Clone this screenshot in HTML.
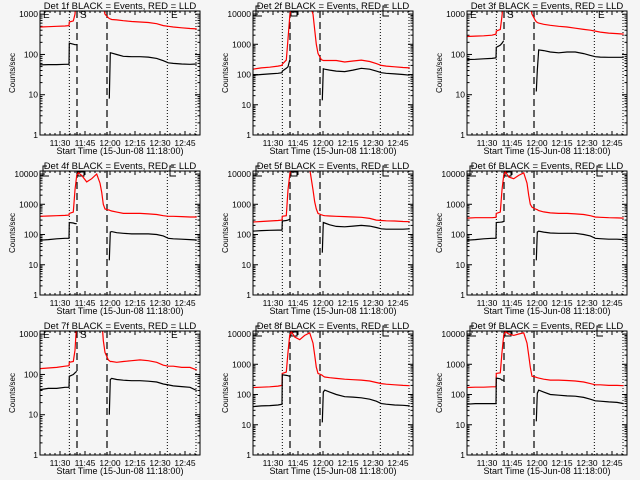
<!DOCTYPE html>
<html><head><meta charset="utf-8"><style>
html,body{margin:0;padding:0;background:#f5f5f5;}
svg{display:block;font-family:"Liberation Sans",sans-serif;}
</style></head><body>
<svg id="chart" width="640" height="480" viewBox="0 0 640 480" xmlns="http://www.w3.org/2000/svg">
<rect x="0" y="0" width="640" height="480" fill="#f5f5f5"/>
</svg>
<script>
// minutes since 11:18:00
const times = [0,5,10,15,17.4,17.6,20,21,22,23,25,28,31,34,36,37,38,39,41,41.6,42.2,43,46,50,55,60,65,70,74,77,80,85,90,94];
const N = null;
const panelNames = ["Det 1f","Det 2f","Det 3f","Det 4f","Det 5f","Det 6f","Det 7f","Det 8f","Det 9f"];
const panelMax = [1200,12600,1200,12600,12600,12600,1200,12600,12600];
const xTickLabels = ["11:30","11:45","12:00","12:15","12:30","12:45"];
const xTickTimes = [12,27,42,57,72,87];
const dottedTimes = [17.6,76.4,93.6];
const dashedTimes = [22.2,40.2];
const black1 = [55,56,56,57,57,190,180,175,175,N,N,N,N,N,N,N,N,N,N,8,110,108,100,90,88,88,86,80,70,62,60,58,57,58];
const red1 = [480,490,500,510,520,640,680,1000,3000,5000,5000,5000,5000,5000,5000,3000,1500,1000,820,780,760,740,720,690,660,640,620,580,520,500,480,460,440,430];
const black2 = [95,100,105,110,115,130,160,180,300,N,N,N,N,N,N,N,N,N,N,14,155,150,140,130,125,140,160,150,130,115,110,105,100,95];
const red2 = [150,165,175,190,200,220,300,1500,8000,20000,20000,20000,20000,20000,10000,3000,1000,500,310,300,290,290,290,290,260,280,300,270,230,200,190,180,170,165];
const black3 = [75,76,78,80,82,150,170,190,220,N,N,N,N,N,N,N,N,N,N,12,40,130,125,115,110,115,115,105,95,88,86,85,85,85];
const red3 = [280,285,290,300,320,380,420,900,3000,5000,5000,5000,5000,5000,5000,3000,1500,1000,700,650,620,600,560,530,500,480,450,420,400,380,360,340,330,320];
const black4 = [65,68,72,75,75,250,240,230,230,N,N,N,N,N,N,N,N,N,N,14,120,125,115,110,105,105,105,100,90,75,72,70,68,66];
const red4 = [400,410,420,430,440,500,550,3000,9000,11000,9000,5500,7000,10000,5000,2500,1000,700,650,640,620,600,550,500,500,500,480,460,420,400,400,390,380,380];
const black5 = [130,135,138,140,140,280,290,300,320,N,N,N,N,N,N,N,N,N,N,25,250,240,210,185,180,190,200,190,170,155,150,150,150,155];
const red5 = [260,270,280,290,300,400,420,3000,9000,20000,20000,20000,20000,15000,3000,1200,700,500,450,440,430,420,410,400,390,380,370,340,300,290,285,280,270,265];
const black6 = [65,68,72,75,75,250,255,260,270,N,N,N,N,N,N,N,N,N,N,14,120,130,120,112,110,110,110,100,90,75,73,70,70,68];
const red6 = [350,360,360,360,370,500,550,3000,9000,12000,8000,7000,9000,11000,5000,2000,1000,800,700,680,660,620,560,520,500,500,480,460,420,380,370,360,355,350];
const black7 = [42,45,45,48,48,90,100,110,120,N,N,N,N,N,N,N,N,N,N,10,75,80,75,72,70,70,68,65,58,55,52,50,48,40];
const red7 = [140,145,150,160,165,200,210,400,2000,5000,5000,5000,5000,5000,5000,2500,700,350,230,220,210,210,200,210,220,230,220,200,170,160,160,150,150,130];
const black8 = [40,42,43,45,48,450,430,420,400,N,N,N,N,N,N,N,N,N,N,12,120,140,120,100,85,82,78,70,60,50,48,45,44,42];
const red8 = [170,175,180,190,200,500,550,2500,9000,12000,8000,6500,9000,11000,5000,2000,800,500,450,430,400,380,360,340,320,310,300,280,250,230,220,210,200,195];
const black9 = [48,50,50,50,50,350,330,300,300,N,N,N,N,N,N,N,N,N,N,13,110,140,120,100,95,90,88,80,70,62,60,57,55,50];
const red9 = [170,175,175,180,180,500,520,2500,9000,12000,10000,9000,10000,11000,5000,2000,800,400,380,370,360,350,320,300,300,290,280,260,230,210,210,200,200,195];
const blacks = [black1,black2,black3,black4,black5,black6,black7,black8,black9];
const reds = [red1,red2,red3,red4,red5,red6,red7,red8,red9];

const NS = "http://www.w3.org/2000/svg";
const svg = document.getElementById('chart');
function mk(tag, attrs, parent) {
  const e = document.createElementNS(NS, tag);
  for (const k in attrs) e.setAttribute(k, attrs[k]);
  parent.appendChild(e);
  return e;
}
const L = 40, R = 200, T = 11, B = 135, TMAX = 96;
for (let p = 0; p < 9; p++) {
  const ox = Math.round((p % 3) * 213.33), oy = Math.floor(p / 3) * 160;
  const g = mk('g', {transform: `translate(${ox},${oy})`}, svg);
  
  
  const ymax = Math.log10(panelMax[p]);
  const xs = t => L + t / TMAX * (R - L);
  const ys = v => B - Math.log10(v) / ymax * (B - T);
  const cid = 'clip' + p;
  const cp = mk('clipPath', {id: cid}, g);
  mk('rect', {x: L, y: T, width: R - L, height: B - T}, cp);
  const tt = mk('text', {x: 120, y: 9, 'text-anchor': 'middle', 'font-size': 9.5, fill: '#000'}, g);
  tt.textContent = panelNames[p] + ' BLACK = Events, RED = LLD';
  
  
  const dec = Math.floor(ymax);
  for (let d = 0; d <= dec; d++) {
    const y = ys(Math.pow(10, d));
    mk('line', {x1: L, x2: L + 5, y1: y, y2: y, stroke: '#000'}, g);
    mk('line', {x1: R, x2: R - 5, y1: y, y2: y, stroke: '#000'}, g);
    const lb = mk('text', {x: L - 2, y: y + 3, 'text-anchor': 'end', 'font-size': 8.5, fill: '#000'}, g);
    lb.textContent = String(Math.pow(10, d));
    
    
    for (let m = 2; m <= 9; m++) {
      const v = m * Math.pow(10, d);
      if (Math.log10(v) > ymax) break;
      const ym = ys(v);
      mk('line', {x1: L, x2: L + 2.5, y1: ym, y2: ym, stroke: '#000'}, g);
      mk('line', {x1: R, x2: R - 2.5, y1: ym, y2: ym, stroke: '#000'}, g);
    }
  }
  for (let t = 0; t <= TMAX; t += 3) {
    const x = xs(t);
    mk('line', {x1: x, x2: x, y1: B, y2: B - 2, stroke: '#000'}, g);
    mk('line', {x1: x, x2: x, y1: T, y2: T + 2, stroke: '#000'}, g);
  }
  xTickTimes.forEach((t, i) => {
    const x = xs(t);
    mk('line', {x1: x, x2: x, y1: B, y2: B - 4, stroke: '#000'}, g);
    mk('line', {x1: x, x2: x, y1: T, y2: T + 4, stroke: '#000'}, g);
    const lb = mk('text', {x: x, y: 146, 'text-anchor': 'middle', 'font-size': 8.5, fill: '#000'}, g);
    lb.textContent = xTickLabels[i];
    
    
  });
  const xt = mk('text', {x: 120, y: 154, 'text-anchor': 'middle', 'font-size': 9, fill: '#000'}, g);
  xt.textContent = 'Start Time (15-Jun-08 11:18:00)';
  
  
  const yt = mk('text', {x: 0, y: 0, transform: 'translate(15,73) rotate(-90)', 'text-anchor': 'middle', 'font-size': 8, fill: '#000'}, g);
  yt.textContent = 'Counts/sec';
  
  
  dottedTimes.forEach(t => {
    const l = mk('line', {x1: xs(t), x2: xs(t), y1: T, y2: B, stroke: '#000', 'stroke-dasharray': '1 2'}, g);
    
    
  });
  dashedTimes.forEach(t => {
    const l = mk('line', {x1: xs(t), x2: xs(t), y1: T, y2: B, stroke: '#000', 'stroke-width': 1.2, 'stroke-dasharray': '7 4'}, g);
    
    
  });
  if (panelMax[p] < 5000) {
    [[43, 'E'], [171, 'E'], [80, 'S']].forEach(([x, s]) => {
      const a = mk('text', {x: x, y: 18, 'font-size': 10, fill: '#000'}, g);
      a.textContent = s;
      
      
    });
  } else {
    [43, 170].forEach(x => {
      const a = mk('path', {d: `M${x + 4} 6 H${x} V16 H${x + 6}`, fill: 'none', stroke: '#000'}, g);
      
      
    });
    const b = mk('path', {d: 'M78 12 H84 V16 H78 Z', fill: 'none', stroke: '#000'}, g);
    
    
  }
  function series(vals, color, name) {
    let d = '', pen = false;
    vals.forEach((v, i) => {
      if (v == null) { pen = false; return; }
      d += (pen ? ' L' : ' M') + xs(times[i]).toFixed(1) + ' ' + ys(v).toFixed(1);
      pen = true;
    });
    const path = mk('path', {d: d, fill: 'none', stroke: color, 'stroke-width': 1.2, 'clip-path': `url(#${cid})`}, g);
    
    
  }
  series(reds[p], '#ff0000', 'red-lld-line');
  series(blacks[p], '#000000', 'black-events-line');
  const fr = mk('rect', {x: L, y: T, width: R - L, height: B - T, fill: 'none', stroke: '#000'}, g);
  
  
}
</script>
</body></html>
